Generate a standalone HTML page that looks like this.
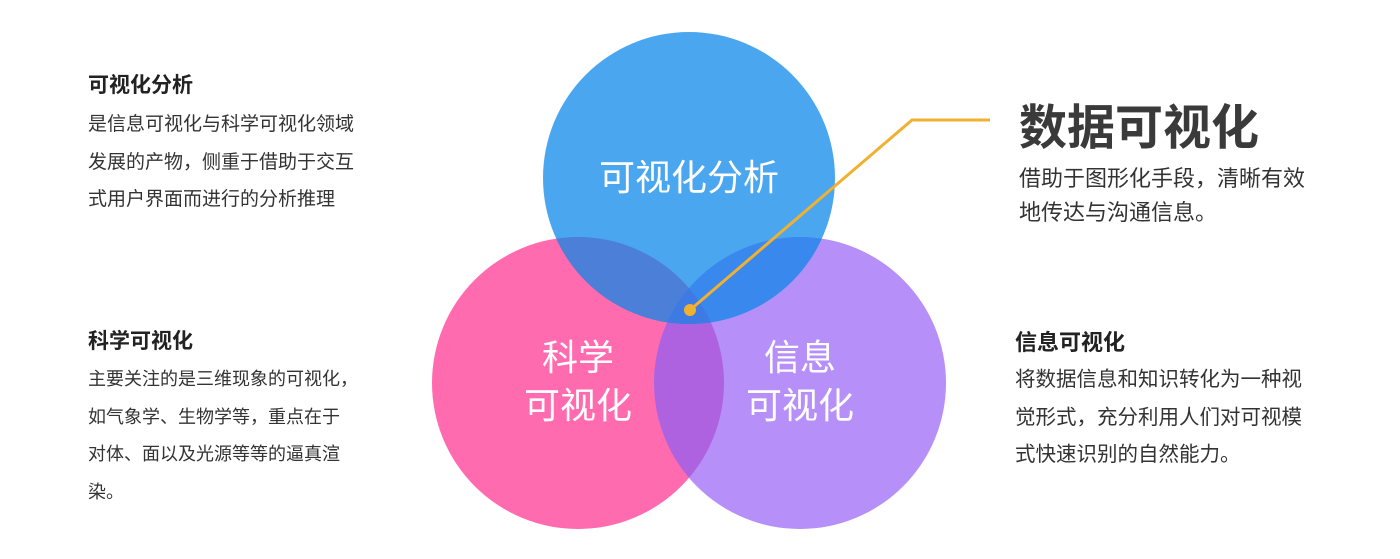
<!DOCTYPE html>
<html><head><meta charset="utf-8"><style>
body{margin:0;width:1400px;height:559px;background:#fff;position:relative;overflow:hidden;font-family:"Liberation Sans","Noto Sans CJK SC",sans-serif;color:#333}
.t{position:absolute;white-space:nowrap}
h3{position:absolute;margin:0;font-weight:bold;color:#222;white-space:nowrap}
.p{position:absolute;line-height:37.5px;color:#333;white-space:nowrap}
</style></head><body>
<svg width="1400" height="559" style="position:absolute;left:0;top:0">
<defs>
<clipPath id="cp"><circle cx="578" cy="383" r="146"/></clipPath>
<clipPath id="cu"><circle cx="800" cy="383" r="146"/></clipPath>
<clipPath id="cb"><circle cx="689" cy="178" r="146"/></clipPath>
</defs>
<circle cx="578" cy="383" r="146" fill="#FF6BAE"/>
<circle cx="800" cy="383" r="146" fill="#B690F8"/>
<circle cx="800" cy="383" r="146" fill="#AF62E0" clip-path="url(#cp)"/>
<circle cx="689" cy="178" r="146" fill="#4BA6F0"/>
<g clip-path="url(#cb)">
<circle cx="578" cy="383" r="146" fill="#4B7FD8"/>
<circle cx="800" cy="383" r="146" fill="#3888EE"/>
<circle cx="800" cy="383" r="146" fill="#3D7AE4" clip-path="url(#cp)"/>
</g>
<polyline points="690,310 912,120 990,120" fill="none" stroke="#F0B030" stroke-width="3"/>
<circle cx="690" cy="310" r="6" fill="#F0B030"/>
<g fill="#fff" font-family="Liberation Sans,Noto Sans CJK SC,sans-serif" font-size="36" text-anchor="middle">
<text x="689" y="190">可视化分析</text>
<text x="578" y="370">科学</text>
<text x="578" y="418">可视化</text>
<text x="800" y="370">信息</text>
<text x="800" y="418">可视化</text>
</g>
</svg>
<h3 style="left:88px;top:69px;font-size:21px">可视化分析</h3>
<div class="p" style="left:88px;top:106px;font-size:19px">是信息可视化与科学可视化领域<br>发展的产物，侧重于借助于交互<br>式用户界面而进行的分析推理</div>
<h3 style="left:88px;top:325px;font-size:21px">科学可视化</h3>
<div class="p" style="left:88px;top:361px;font-size:18px">主要关注的是三维现象的可视化，<br>如气象学、生物学等，重点在于<br>对体、面以及光源等等的逼真渲<br>染。</div>
<div class="t" style="left:1019px;top:88px;font-size:48px;font-weight:bold;color:#3a3a3a">数据可视化</div>
<div class="p" style="left:1019px;top:162px;font-size:22px;line-height:34px">借助于图形化手段，清晰有效<br>地传达与沟通信息。</div>
<h3 style="left:1015px;top:325px;font-size:22px">信息可视化</h3>
<div class="p" style="left:1015px;top:361px;font-size:20.5px">将数据信息和知识转化为一种视<br>觉形式，充分利用人们对可视模<br>式快速识别的自然能力。</div>
</body></html>
